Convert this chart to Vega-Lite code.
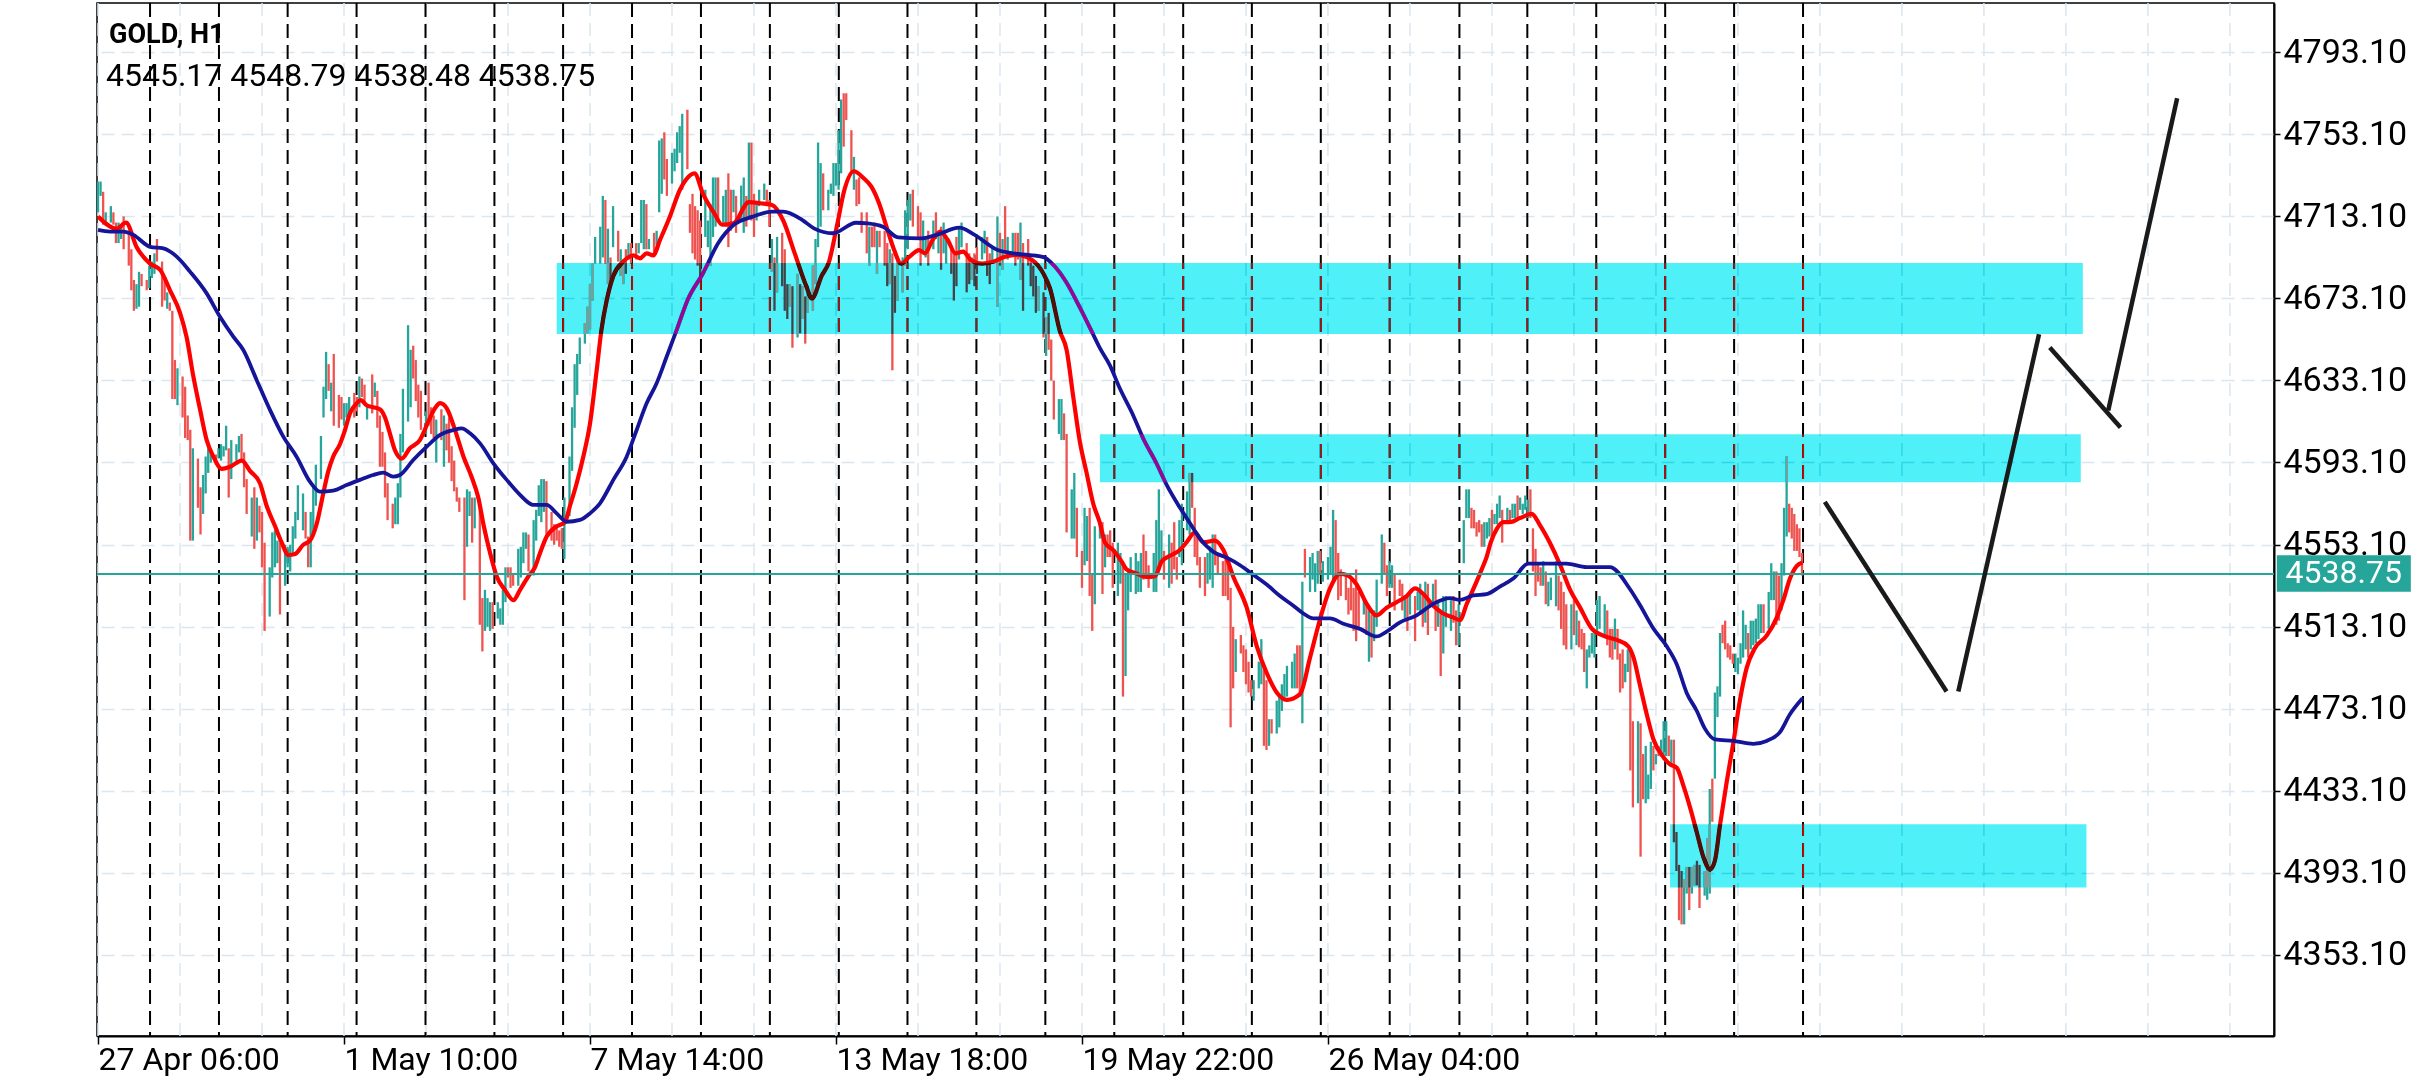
{
"$schema":"https://vega.github.io/schema/vega-lite/v6.json",
"width":2177,"height":1033,
"autosize":{"type":"none"},
"padding":{"left":97,"top":3,"right":162,"bottom":44},
"background":"white",
"config":{"view":{"stroke":"#000","strokeWidth":1.5},"font":"Roboto","axis":{"labelFont":"Roboto","labelColor":"#000"},"text":{"font":"Roboto"}},
"datasets":{
"one":[{}],
"gx":[{"g":0},{"g":32},{"g":64},{"g":96},{"g":128},{"g":160},{"g":192},{"g":224},{"g":256},{"g":288},{"g":320},{"g":352},{"g":384},{"g":416},{"g":448},{"g":480},{"g":512},{"g":544},{"g":576},{"g":608},{"g":640},{"g":672},{"g":704},{"g":736},{"g":768},{"g":800},{"g":832}],
"vl":[{"v":20.3},{"v":47.2},{"v":74.0},{"v":100.9},{"v":127.8},{"v":154.7},{"v":181.5},{"v":208.4},{"v":235.3},{"v":262.2},{"v":289.1},{"v":315.9},{"v":342.8},{"v":369.7},{"v":396.6},{"v":423.5},{"v":450.3},{"v":477.2},{"v":504.1},{"v":531.3},{"v":557.8},{"v":584.7},{"v":611.6},{"v":638.5},{"v":665.4}],
"bars":[
{"i":0,"l":4715,"h":4730,"u":1},{"i":1,"l":4723,"h":4730,"u":1},{"i":2,"l":4709,"h":4725,"u":0},{"i":3,"l":4709,"h":4715,"u":1},{"i":5,"l":4710,"h":4718,"u":1},{"i":6,"l":4709,"h":4715,"u":0},{"i":7,"l":4700,"h":4710,"u":0},{"i":8,"l":4700,"h":4710,"u":1},{"i":9,"l":4702,"h":4708,"u":1},{"i":10,"l":4697,"h":4713,"u":0},{"i":12,"l":4689,"h":4706,"u":0},{"i":13,"l":4677,"h":4697,"u":0},{"i":14,"l":4667,"h":4682,"u":0},{"i":15,"l":4668,"h":4680,"u":1},{"i":16,"l":4669,"h":4686,"u":1},{"i":17,"l":4679,"h":4685,"u":0},{"i":19,"l":4677,"h":4682,"u":0},{"i":20,"l":4678,"h":4689,"u":1},{"i":21,"l":4683,"h":4691,"u":1},{"i":22,"l":4685,"h":4695,"u":1},{"i":23,"l":4691,"h":4702,"u":0},{"i":25,"l":4669,"h":4691,"u":0},{"i":26,"l":4672,"h":4683,"u":0},{"i":27,"l":4668,"h":4676,"u":1},{"i":28,"l":4667,"h":4671,"u":0},{"i":29,"l":4624,"h":4667,"u":0},{"i":30,"l":4624,"h":4643,"u":0},{"i":31,"l":4621,"h":4639,"u":1},{"i":33,"l":4615,"h":4635,"u":0},{"i":34,"l":4605,"h":4630,"u":0},{"i":35,"l":4604,"h":4616,"u":0},{"i":36,"l":4555,"h":4609,"u":0},{"i":37,"l":4555,"h":4600,"u":1},{"i":39,"l":4571,"h":4595,"u":0},{"i":40,"l":4558,"h":4581,"u":0},{"i":41,"l":4568,"h":4587,"u":1},{"i":42,"l":4578,"h":4596,"u":1},{"i":43,"l":4588,"h":4600,"u":1},{"i":44,"l":4593,"h":4599,"u":1},{"i":46,"l":4592,"h":4597,"u":0},{"i":47,"l":4595,"h":4600,"u":1},{"i":48,"l":4594,"h":4602,"u":1},{"i":49,"l":4596,"h":4601,"u":1},{"i":50,"l":4599,"h":4611,"u":1},{"i":51,"l":4576,"h":4600,"u":0},{"i":52,"l":4585,"h":4604,"u":1},{"i":54,"l":4594,"h":4602,"u":1},{"i":55,"l":4598,"h":4606,"u":1},{"i":56,"l":4594,"h":4607,"u":0},{"i":57,"l":4581,"h":4598,"u":0},{"i":58,"l":4568,"h":4585,"u":0},{"i":60,"l":4557,"h":4576,"u":1},{"i":61,"l":4551,"h":4581,"u":0},{"i":62,"l":4555,"h":4576,"u":1},{"i":63,"l":4559,"h":4572,"u":0},{"i":64,"l":4542,"h":4569,"u":0},{"i":65,"l":4511,"h":4554,"u":0},{"i":67,"l":4518,"h":4542,"u":1},{"i":68,"l":4537,"h":4559,"u":1},{"i":69,"l":4542,"h":4560,"u":1},{"i":70,"l":4544,"h":4555,"u":1},{"i":71,"l":4519,"h":4554,"u":0},{"i":73,"l":4533,"h":4553,"u":1},{"i":74,"l":4542,"h":4552,"u":1},{"i":75,"l":4540,"h":4553,"u":1},{"i":76,"l":4549,"h":4562,"u":1},{"i":77,"l":4556,"h":4569,"u":1},{"i":78,"l":4565,"h":4582,"u":1},{"i":80,"l":4560,"h":4578,"u":1},{"i":81,"l":4556,"h":4569,"u":0},{"i":82,"l":4542,"h":4557,"u":0},{"i":83,"l":4542,"h":4569,"u":1},{"i":84,"l":4559,"h":4582,"u":1},{"i":85,"l":4572,"h":4592,"u":1},{"i":87,"l":4585,"h":4606,"u":1},{"i":88,"l":4615,"h":4630,"u":1},{"i":89,"l":4624,"h":4647,"u":1},{"i":90,"l":4628,"h":4641,"u":0},{"i":91,"l":4618,"h":4632,"u":1},{"i":92,"l":4611,"h":4646,"u":0},{"i":94,"l":4610,"h":4626,"u":0},{"i":95,"l":4614,"h":4625,"u":0},{"i":96,"l":4611,"h":4622,"u":1},{"i":97,"l":4615,"h":4622,"u":1},{"i":98,"l":4617,"h":4625,"u":1},{"i":100,"l":4615,"h":4627,"u":0},{"i":101,"l":4618,"h":4625,"u":0},{"i":102,"l":4620,"h":4635,"u":1},{"i":103,"l":4625,"h":4634,"u":0},{"i":104,"l":4622,"h":4631,"u":0},{"i":105,"l":4614,"h":4621,"u":1},{"i":107,"l":4617,"h":4636,"u":0},{"i":108,"l":4625,"h":4632,"u":1},{"i":109,"l":4610,"h":4628,"u":0},{"i":110,"l":4591,"h":4616,"u":0},{"i":111,"l":4591,"h":4608,"u":0},{"i":112,"l":4576,"h":4598,"u":0},{"i":113,"l":4565,"h":4583,"u":0},
{"i":115,"l":4561,"h":4573,"u":0},{"i":116,"l":4563,"h":4576,"u":1},{"i":117,"l":4563,"h":4583,"u":1},{"i":118,"l":4576,"h":4607,"u":1},{"i":119,"l":4598,"h":4629,"u":1},{"i":121,"l":4613,"h":4660,"u":1},{"i":122,"l":4620,"h":4648,"u":1},{"i":123,"l":4634,"h":4650,"u":0},{"i":124,"l":4623,"h":4643,"u":0},{"i":125,"l":4615,"h":4631,"u":0},{"i":126,"l":4609,"h":4628,"u":0},{"i":128,"l":4607,"h":4618,"u":1},{"i":129,"l":4611,"h":4632,"u":0},{"i":130,"l":4607,"h":4620,"u":0},{"i":131,"l":4605,"h":4616,"u":0},{"i":132,"l":4593,"h":4614,"u":1},{"i":134,"l":4604,"h":4619,"u":0},{"i":135,"l":4591,"h":4616,"u":1},{"i":136,"l":4599,"h":4612,"u":0},{"i":137,"l":4593,"h":4615,"u":0},{"i":138,"l":4584,"h":4601,"u":0},{"i":139,"l":4579,"h":4594,"u":0},{"i":140,"l":4574,"h":4581,"u":0},{"i":141,"l":4569,"h":4576,"u":0},{"i":143,"l":4526,"h":4576,"u":0},{"i":144,"l":4552,"h":4580,"u":1},{"i":145,"l":4567,"h":4579,"u":1},{"i":146,"l":4554,"h":4576,"u":0},{"i":147,"l":4561,"h":4576,"u":1},{"i":149,"l":4514,"h":4573,"u":0},{"i":150,"l":4501,"h":4527,"u":0},{"i":151,"l":4511,"h":4531,"u":1},{"i":152,"l":4513,"h":4527,"u":1},{"i":153,"l":4511,"h":4525,"u":1},{"i":154,"l":4512,"h":4525,"u":0},{"i":156,"l":4517,"h":4525,"u":1},{"i":157,"l":4514,"h":4522,"u":1},{"i":158,"l":4514,"h":4531,"u":1},{"i":159,"l":4525,"h":4542,"u":1},{"i":160,"l":4537,"h":4542,"u":0},{"i":161,"l":4532,"h":4542,"u":0},{"i":162,"l":4533,"h":4539,"u":0},{"i":164,"l":4533,"h":4551,"u":1},{"i":165,"l":4537,"h":4552,"u":1},{"i":166,"l":4544,"h":4559,"u":1},{"i":167,"l":4551,"h":4559,"u":1},{"i":168,"l":4540,"h":4558,"u":0},{"i":170,"l":4538,"h":4565,"u":1},{"i":171,"l":4555,"h":4570,"u":1},{"i":172,"l":4567,"h":4582,"u":1},{"i":173,"l":4564,"h":4585,"u":1},{"i":174,"l":4569,"h":4585,"u":1},{"i":175,"l":4558,"h":4584,"u":0},{"i":177,"l":4555,"h":4569,"u":0},{"i":178,"l":4553,"h":4563,"u":0},{"i":179,"l":4555,"h":4562,"u":0},{"i":180,"l":4552,"h":4560,"u":0},{"i":181,"l":4551,"h":4561,"u":0},{"i":182,"l":4546,"h":4576,"u":1},{"i":184,"l":4567,"h":4596,"u":1},{"i":185,"l":4589,"h":4620,"u":1},{"i":186,"l":4610,"h":4641,"u":1},{"i":187,"l":4626,"h":4646,"u":1},{"i":188,"l":4641,"h":4654,"u":1},{"i":190,"l":4651,"h":4661,"u":1},{"i":191,"l":4656,"h":4669,"u":1},{"i":192,"l":4658,"h":4680,"u":1},{"i":193,"l":4672,"h":4690,"u":1},{"i":194,"l":4690,"h":4703,"u":1},{"i":196,"l":4690,"h":4708,"u":1},{"i":197,"l":4693,"h":4723,"u":1},{"i":198,"l":4690,"h":4721,"u":0},{"i":199,"l":4680,"h":4707,"u":1},{"i":200,"l":4680,"h":4693,"u":0},{"i":201,"l":4698,"h":4718,"u":1},{"i":203,"l":4691,"h":4706,"u":0},{"i":204,"l":4684,"h":4697,"u":1},{"i":205,"l":4680,"h":4692,"u":1},{"i":206,"l":4685,"h":4697,"u":0},{"i":207,"l":4692,"h":4700,"u":1},{"i":208,"l":4690,"h":4700,"u":0},{"i":210,"l":4692,"h":4700,"u":0},{"i":211,"l":4695,"h":4700,"u":1},{"i":212,"l":4700,"h":4721,"u":1},{"i":213,"l":4697,"h":4721,"u":1},{"i":214,"l":4697,"h":4719,"u":0},{"i":215,"l":4697,"h":4702,"u":1},{"i":217,"l":4695,"h":4705,"u":0},{"i":218,"l":4699,"h":4706,"u":1},{"i":219,"l":4715,"h":4750,"u":1},
{"i":220,"l":4724,"h":4751,"u":1},{"i":221,"l":4731,"h":4754,"u":0},{"i":222,"l":4723,"h":4741,"u":0},{"i":224,"l":4729,"h":4744,"u":1},{"i":225,"l":4735,"h":4746,"u":1},{"i":226,"l":4739,"h":4754,"u":1},{"i":227,"l":4744,"h":4757,"u":1},{"i":228,"l":4726,"h":4763,"u":1},{"i":230,"l":4736,"h":4765,"u":0},{"i":231,"l":4705,"h":4719,"u":0},{"i":232,"l":4695,"h":4724,"u":0},{"i":233,"l":4692,"h":4718,"u":0},{"i":234,"l":4689,"h":4716,"u":0},{"i":235,"l":4682,"h":4711,"u":0},{"i":237,"l":4703,"h":4726,"u":1},{"i":238,"l":4698,"h":4711,"u":1},{"i":239,"l":4689,"h":4719,"u":1},{"i":240,"l":4703,"h":4732,"u":1},{"i":241,"l":4708,"h":4732,"u":1},{"i":242,"l":4711,"h":4732,"u":0},{"i":244,"l":4710,"h":4723,"u":1},{"i":245,"l":4708,"h":4726,"u":1},{"i":246,"l":4698,"h":4734,"u":0},{"i":247,"l":4706,"h":4726,"u":0},{"i":248,"l":4715,"h":4726,"u":1},{"i":249,"l":4705,"h":4723,"u":0},{"i":251,"l":4711,"h":4728,"u":1},{"i":252,"l":4705,"h":4732,"u":1},{"i":253,"l":4708,"h":4723,"u":0},{"i":254,"l":4713,"h":4749,"u":1},{"i":255,"l":4711,"h":4749,"u":0},{"i":256,"l":4703,"h":4724,"u":0},{"i":257,"l":4711,"h":4719,"u":1},{"i":258,"l":4718,"h":4726,"u":1},{"i":260,"l":4721,"h":4729,"u":1},{"i":261,"l":4718,"h":4726,"u":0},{"i":262,"l":4708,"h":4721,"u":0},{"i":263,"l":4686,"h":4702,"u":1},{"i":264,"l":4667,"h":4693,"u":0},{"i":265,"l":4676,"h":4703,"u":1},{"i":267,"l":4679,"h":4705,"u":0},{"i":268,"l":4667,"h":4697,"u":0},{"i":269,"l":4663,"h":4680,"u":0},{"i":270,"l":4669,"h":4680,"u":1},{"i":271,"l":4649,"h":4679,"u":0},{"i":273,"l":4654,"h":4685,"u":1},{"i":274,"l":4656,"h":4680,"u":0},{"i":275,"l":4663,"h":4679,"u":1},{"i":276,"l":4651,"h":4674,"u":0},{"i":277,"l":4666,"h":4679,"u":1},{"i":279,"l":4667,"h":4689,"u":1},{"i":280,"l":4680,"h":4702,"u":1},{"i":281,"l":4698,"h":4749,"u":1},{"i":282,"l":4708,"h":4739,"u":1},{"i":283,"l":4716,"h":4734,"u":0},{"i":285,"l":4716,"h":4726,"u":1},{"i":286,"l":4724,"h":4729,"u":1},{"i":287,"l":4723,"h":4739,"u":1},{"i":288,"l":4728,"h":4739,"u":1},{"i":289,"l":4726,"h":4755,"u":1},{"i":290,"l":4734,"h":4770,"u":1},{"i":291,"l":4747,"h":4773,"u":0},{"i":292,"l":4760,"h":4773,"u":0},{"i":294,"l":4734,"h":4755,"u":0},{"i":295,"l":4726,"h":4742,"u":1},{"i":296,"l":4718,"h":4731,"u":0},{"i":297,"l":4719,"h":4732,"u":0},{"i":298,"l":4705,"h":4715,"u":0},{"i":300,"l":4695,"h":4715,"u":0},{"i":301,"l":4689,"h":4708,"u":1},{"i":302,"l":4698,"h":4708,"u":0},{"i":303,"l":4698,"h":4710,"u":0},{"i":304,"l":4685,"h":4706,"u":1},{"i":305,"l":4698,"h":4706,"u":0},{"i":307,"l":4689,"h":4706,"u":0},{"i":308,"l":4679,"h":4700,"u":0},{"i":309,"l":4680,"h":4697,"u":1},{"i":310,"l":4638,"h":4695,"u":0},{"i":311,"l":4666,"h":4684,"u":0},{"i":312,"l":4672,"h":4692,"u":1},{"i":314,"l":4676,"h":4693,"u":1},{"i":315,"l":4689,"h":4716,"u":1},{"i":316,"l":4697,"h":4721,"u":1},{"i":317,"l":4711,"h":4724,"u":1},{"i":318,"l":4708,"h":4726,"u":0},{"i":320,"l":4703,"h":4718,"u":0},{"i":321,"l":4689,"h":4715,"u":0},{"i":322,"l":4695,"h":4711,"u":1},{"i":323,"l":4693,"h":4703,"u":1},{"i":324,"l":4689,"h":4706,"u":0},{"i":326,"l":4697,"h":4711,"u":1},{"i":327,"l":4702,"h":4715,"u":0},{"i":328,"l":4695,"h":4705,"u":1},{"i":329,"l":4687,"h":4708,"u":0},{"i":330,"l":4695,"h":4710,"u":1},{"i":331,"l":4690,"h":4702,"u":1},{"i":333,"l":4685,"h":4698,"u":0},{"i":334,"l":4672,"h":4695,"u":0},{"i":335,"l":4679,"h":4703,"u":0},{"i":336,"l":4692,"h":4708,"u":1},{"i":337,"l":4698,"h":4710,"u":1},{"i":339,"l":4676,"h":4700,"u":0},{"i":340,"l":4680,"h":4695,"u":0},{"i":341,"l":4682,"h":4693,"u":1},{"i":342,"l":4679,"h":4695,"u":0},{"i":343,"l":4685,"h":4698,"u":0},{"i":345,"l":4692,"h":4703,"u":1},{"i":346,"l":4695,"h":4706,"u":1},{"i":347,"l":4684,"h":4703,"u":0},{"i":348,"l":4680,"h":4695,"u":0},{"i":349,"l":4690,"h":4698,"u":1},{"i":351,"l":4669,"h":4713,"u":1},{"i":352,"l":4689,"h":4705,"u":0},{"i":353,"l":4687,"h":4702,"u":1},{"i":354,"l":4695,"h":4718,"u":0},{"i":355,"l":4692,"h":4703,"u":1},{"i":357,"l":4695,"h":4705,"u":1},{"i":358,"l":4689,"h":4705,"u":0},{"i":359,"l":4692,"h":4705,"u":0},{"i":360,"l":4682,"h":4710,"u":1},{"i":361,"l":4667,"h":4700,"u":0},{"i":363,"l":4689,"h":4702,"u":0},{"i":364,"l":4679,"h":4692,"u":0},{"i":365,"l":4674,"h":4689,"u":0},{"i":366,"l":4666,"h":4684,"u":0},{"i":367,"l":4667,"h":4679,"u":1},{"i":369,"l":4654,"h":4676,"u":0},{"i":370,"l":4645,"h":4664,"u":1},{"i":371,"l":4648,"h":4666,"u":0},{"i":372,"l":4633,"h":4653,"u":0},{"i":373,"l":4614,"h":4633,"u":0},{"i":375,"l":4607,"h":4624,"u":1},{"i":376,"l":4604,"h":4624,"u":1},{"i":377,"l":4604,"h":4617,"u":0},{"i":378,"l":4559,"h":4607,"u":0},
{"i":380,"l":4556,"h":4580,"u":1},{"i":381,"l":4556,"h":4588,"u":1},{"i":382,"l":4547,"h":4571,"u":0},{"i":384,"l":4532,"h":4550,"u":0},{"i":385,"l":4543,"h":4571,"u":1},{"i":386,"l":4545,"h":4567,"u":1},{"i":387,"l":4528,"h":4571,"u":0},{"i":388,"l":4511,"h":4539,"u":0},{"i":389,"l":4524,"h":4562,"u":1},{"i":391,"l":4556,"h":4564,"u":1},{"i":392,"l":4529,"h":4564,"u":0},{"i":393,"l":4542,"h":4558,"u":1},{"i":394,"l":4547,"h":4558,"u":0},{"i":395,"l":4547,"h":4560,"u":0},{"i":396,"l":4532,"h":4554,"u":0},{"i":398,"l":4528,"h":4554,"u":1},{"i":399,"l":4534,"h":4549,"u":1},{"i":400,"l":4479,"h":4543,"u":0},{"i":401,"l":4489,"h":4539,"u":1},{"i":402,"l":4521,"h":4541,"u":1},{"i":403,"l":4530,"h":4547,"u":1},{"i":405,"l":4529,"h":4549,"u":1},{"i":406,"l":4530,"h":4545,"u":1},{"i":407,"l":4530,"h":4549,"u":1},{"i":408,"l":4536,"h":4558,"u":0},{"i":409,"l":4539,"h":4550,"u":0},{"i":410,"l":4532,"h":4543,"u":0},{"i":412,"l":4530,"h":4549,"u":1},{"i":413,"l":4530,"h":4565,"u":1},{"i":414,"l":4541,"h":4580,"u":1},{"i":415,"l":4545,"h":4560,"u":1},{"i":416,"l":4536,"h":4550,"u":0},{"i":418,"l":4532,"h":4558,"u":1},{"i":419,"l":4534,"h":4554,"u":0},{"i":420,"l":4541,"h":4564,"u":0},{"i":421,"l":4536,"h":4547,"u":0},{"i":422,"l":4547,"h":4565,"u":1},{"i":423,"l":4543,"h":4573,"u":1},{"i":425,"l":4560,"h":4579,"u":1},{"i":426,"l":4558,"h":4588,"u":1},{"i":427,"l":4571,"h":4588,"u":0},{"i":428,"l":4547,"h":4571,"u":0},{"i":429,"l":4543,"h":4558,"u":0},{"i":430,"l":4532,"h":4547,"u":0},{"i":432,"l":4528,"h":4547,"u":0},{"i":433,"l":4534,"h":4549,"u":1},{"i":434,"l":4536,"h":4552,"u":1},{"i":435,"l":4532,"h":4558,"u":1},{"i":436,"l":4543,"h":4558,"u":0},{"i":437,"l":4539,"h":4549,"u":0},{"i":439,"l":4528,"h":4545,"u":0},{"i":440,"l":4528,"h":4547,"u":0},{"i":441,"l":4526,"h":4545,"u":0},{"i":442,"l":4464,"h":4532,"u":0},{"i":443,"l":4483,"h":4513,"u":0},{"i":444,"l":4491,"h":4507,"u":1},{"i":446,"l":4500,"h":4509,"u":0},{"i":447,"l":4491,"h":4504,"u":0},{"i":448,"l":4485,"h":4502,"u":0},{"i":449,"l":4481,"h":4496,"u":0},{"i":450,"l":4479,"h":4487,"u":0},{"i":451,"l":4477,"h":4487,"u":1},{"i":453,"l":4483,"h":4496,"u":1},{"i":454,"l":4485,"h":4507,"u":1},{"i":455,"l":4455,"h":4492,"u":0},{"i":456,"l":4453,"h":4487,"u":0},{"i":457,"l":4455,"h":4468,"u":1},{"i":458,"l":4461,"h":4468,"u":0},{"i":460,"l":4461,"h":4477,"u":1},{"i":461,"l":4464,"h":4479,"u":1},{"i":462,"l":4472,"h":4485,"u":1},{"i":463,"l":4477,"h":4490,"u":1},{"i":464,"l":4479,"h":4494,"u":1},{"i":466,"l":4483,"h":4496,"u":1},{"i":467,"l":4483,"h":4500,"u":1},{"i":468,"l":4483,"h":4504,"u":0},{"i":469,"l":4479,"h":4504,"u":0},{"i":470,"l":4466,"h":4535,"u":1},{"i":471,"l":4537,"h":4551,"u":0},{"i":473,"l":4530,"h":4547,"u":1},{"i":474,"l":4536,"h":4549,"u":1},{"i":475,"l":4530,"h":4544,"u":1},{"i":476,"l":4534,"h":4550,"u":1},{"i":477,"l":4539,"h":4550,"u":0},{"i":478,"l":4535,"h":4545,"u":1},{"i":480,"l":4536,"h":4547,"u":1},{"i":481,"l":4539,"h":4552,"u":1},{"i":482,"l":4536,"h":4570,"u":1},{"i":483,"l":4539,"h":4565,"u":0},{"i":484,"l":4526,"h":4549,"u":0},{"i":485,"l":4528,"h":4541,"u":0},{"i":487,"l":4526,"h":4539,"u":0},{"i":488,"l":4519,"h":4532,"u":0},{"i":489,"l":4521,"h":4536,"u":0},{"i":490,"l":4511,"h":4532,"u":0},{"i":491,"l":4506,"h":4541,"u":0},{"i":492,"l":4513,"h":4530,"u":0},{"i":494,"l":4519,"h":4528,"u":1},{"i":495,"l":4509,"h":4524,"u":0},{"i":496,"l":4496,"h":4522,"u":1},{"i":497,"l":4498,"h":4519,"u":0},{"i":498,"l":4506,"h":4521,"u":1},{"i":499,"l":4513,"h":4536,"u":1},{"i":501,"l":4534,"h":4558,"u":1},{"i":502,"l":4539,"h":4554,"u":0},{"i":503,"l":4528,"h":4543,"u":0},{"i":504,"l":4532,"h":4545,"u":1},{"i":505,"l":4532,"h":4543,"u":1},{"i":506,"l":4521,"h":4539,"u":0},{"i":508,"l":4528,"h":4536,"u":0},{"i":509,"l":4521,"h":4534,"u":0},{"i":510,"l":4517,"h":4528,"u":1},{"i":511,"l":4511,"h":4528,"u":0},{"i":512,"l":4519,"h":4530,"u":1},{"i":514,"l":4506,"h":4528,"u":0},{"i":515,"l":4521,"h":4530,"u":1},{"i":516,"l":4519,"h":4534,"u":1},{"i":517,"l":4513,"h":4528,"u":0},{"i":518,"l":4515,"h":4535,"u":1},{"i":519,"l":4509,"h":4534,"u":0},{"i":521,"l":4524,"h":4534,"u":1},{"i":522,"l":4511,"h":4536,"u":0},{"i":523,"l":4513,"h":4526,"u":1},{"i":524,"l":4489,"h":4521,"u":0},{"i":525,"l":4500,"h":4528,"u":1},{"i":526,"l":4513,"h":4528,"u":1},{"i":528,"l":4511,"h":4526,"u":1},{"i":529,"l":4515,"h":4528,"u":0},{"i":530,"l":4504,"h":4521,"u":0},{"i":531,"l":4504,"h":4524,"u":1},
{"i":533,"l":4544,"h":4565,"u":1},{"i":534,"l":4566,"h":4580,"u":1},{"i":535,"l":4566,"h":4580,"u":1},{"i":536,"l":4561,"h":4571,"u":0},{"i":537,"l":4561,"h":4570,"u":0},{"i":538,"l":4557,"h":4564,"u":0},{"i":539,"l":4559,"h":4565,"u":0},{"i":540,"l":4552,"h":4563,"u":0},{"i":541,"l":4552,"h":4564,"u":1},{"i":542,"l":4556,"h":4564,"u":1},{"i":543,"l":4557,"h":4566,"u":1},{"i":544,"l":4556,"h":4570,"u":0},{"i":545,"l":4563,"h":4568,"u":1},{"i":546,"l":4563,"h":4573,"u":1},{"i":547,"l":4566,"h":4577,"u":1},{"i":548,"l":4554,"h":4570,"u":0},{"i":550,"l":4564,"h":4571,"u":1},{"i":551,"l":4564,"h":4570,"u":0},{"i":552,"l":4566,"h":4573,"u":1},{"i":553,"l":4566,"h":4573,"u":1},{"i":554,"l":4566,"h":4577,"u":0},{"i":555,"l":4570,"h":4576,"u":1},{"i":556,"l":4568,"h":4573,"u":1},{"i":557,"l":4570,"h":4577,"u":1},{"i":558,"l":4566,"h":4575,"u":1},{"i":559,"l":4566,"h":4580,"u":0},{"i":560,"l":4540,"h":4561,"u":0},{"i":561,"l":4528,"h":4551,"u":0},{"i":562,"l":4535,"h":4544,"u":0},{"i":563,"l":4533,"h":4542,"u":0},{"i":564,"l":4533,"h":4545,"u":1},{"i":565,"l":4524,"h":4540,"u":0},{"i":566,"l":4523,"h":4535,"u":1},{"i":567,"l":4526,"h":4537,"u":1},{"i":569,"l":4523,"h":4545,"u":1},{"i":570,"l":4521,"h":4538,"u":0},{"i":571,"l":4512,"h":4535,"u":0},{"i":572,"l":4504,"h":4530,"u":0},{"i":573,"l":4502,"h":4524,"u":0},{"i":575,"l":4502,"h":4524,"u":1},{"i":576,"l":4509,"h":4526,"u":0},{"i":577,"l":4504,"h":4521,"u":1},{"i":578,"l":4503,"h":4516,"u":0},{"i":579,"l":4502,"h":4512,"u":0},{"i":580,"l":4491,"h":4510,"u":0},{"i":581,"l":4483,"h":4502,"u":1},{"i":582,"l":4498,"h":4504,"u":1},{"i":583,"l":4500,"h":4510,"u":1},{"i":584,"l":4498,"h":4510,"u":1},{"i":585,"l":4509,"h":4526,"u":1},{"i":586,"l":4512,"h":4528,"u":1},{"i":588,"l":4509,"h":4524,"u":1},{"i":589,"l":4504,"h":4521,"u":0},{"i":590,"l":4498,"h":4512,"u":0},{"i":591,"l":4497,"h":4512,"u":0},{"i":592,"l":4502,"h":4517,"u":1},{"i":593,"l":4497,"h":4512,"u":0},{"i":594,"l":4481,"h":4500,"u":0},{"i":595,"l":4483,"h":4502,"u":0},{"i":596,"l":4486,"h":4495,"u":1},{"i":597,"l":4491,"h":4502,"u":1},{"i":598,"l":4443,"h":4502,"u":0},{"i":599,"l":4425,"h":4467,"u":0},{"i":601,"l":4427,"h":4467,"u":1},{"i":602,"l":4401,"h":4466,"u":0},{"i":603,"l":4429,"h":4451,"u":0},{"i":604,"l":4427,"h":4455,"u":1},{"i":605,"l":4429,"h":4441,"u":1},{"i":606,"l":4434,"h":4457,"u":1},{"i":607,"l":4443,"h":4455,"u":0},{"i":608,"l":4446,"h":4451,"u":1},{"i":609,"l":4450,"h":4455,"u":0},{"i":610,"l":4451,"h":4458,"u":1},{"i":611,"l":4448,"h":4467,"u":1},{"i":612,"l":4450,"h":4467,"u":1},{"i":613,"l":4450,"h":4460,"u":0},{"i":614,"l":4446,"h":4458,"u":1},{"i":615,"l":4408,"h":4458,"u":0},{"i":616,"l":4394,"h":4413,"u":0},{"i":617,"l":4370,"h":4397,"u":0},{"i":618,"l":4368,"h":4394,"u":0},{"i":619,"l":4368,"h":4390,"u":1},{"i":620,"l":4383,"h":4396,"u":1},{"i":621,"l":4375,"h":4396,"u":0},{"i":622,"l":4383,"h":4396,"u":1},{"i":623,"l":4387,"h":4397,"u":1},{"i":624,"l":4387,"h":4399,"u":0},{"i":625,"l":4376,"h":4397,"u":0},{"i":627,"l":4382,"h":4394,"u":1},{"i":628,"l":4380,"h":4410,"u":1},{"i":629,"l":4383,"h":4434,"u":1},{"i":630,"l":4418,"h":4439,"u":0},{"i":631,"l":4439,"h":4481,"u":1},{"i":632,"l":4469,"h":4484,"u":1},{"i":633,"l":4479,"h":4510,"u":1},{"i":634,"l":4505,"h":4514,"u":0},{"i":635,"l":4502,"h":4516,"u":0},{"i":636,"l":4498,"h":4505,"u":0},{"i":637,"l":4497,"h":4504,"u":0},{"i":638,"l":4495,"h":4500,"u":0},{"i":639,"l":4491,"h":4500,"u":1},{"i":640,"l":4490,"h":4498,"u":1},{"i":641,"l":4495,"h":4505,"u":1},{"i":642,"l":4498,"h":4521,"u":1},{"i":643,"l":4502,"h":4514,"u":1},{"i":644,"l":4498,"h":4510,"u":0},{"i":645,"l":4502,"h":4516,"u":1},{"i":646,"l":4504,"h":4516,"u":1},{"i":647,"l":4505,"h":4517,"u":1},{"i":648,"l":4507,"h":4524,"u":1},{"i":649,"l":4510,"h":4524,"u":1},{"i":650,"l":4510,"h":4524,"u":0},{"i":652,"l":4512,"h":4530,"u":1},{"i":653,"l":4526,"h":4544,"u":1},{"i":654,"l":4526,"h":4540,"u":1},{"i":655,"l":4514,"h":4540,"u":0},{"i":656,"l":4516,"h":4538,"u":0},{"i":657,"l":4521,"h":4544,"u":1},{"i":658,"l":4538,"h":4571,"u":1},{"i":659,"l":4557,"h":4596,"u":1},{"i":660,"l":4559,"h":4573,"u":0},{"i":661,"l":4556,"h":4571,"u":0},{"i":662,"l":4550,"h":4568,"u":0},{"i":663,"l":4550,"h":4563,"u":0},{"i":664,"l":4547,"h":4561,"u":0},{"i":665,"l":4538,"h":4549,"u":0}
],
"fast":[
{"i":0,"p":4713},{"i":7.3,"p":4707},{"i":10.9,"p":4710},{"i":15.1,"p":4698},{"i":20.3,"p":4690},{"i":24.2,"p":4687},{"i":28.1,"p":4677},{"i":32,"p":4666},{"i":34.6,"p":4654},{"i":37.2,"p":4635},{"i":39.8,"p":4619},{"i":42.4,"p":4604},{"i":45,"p":4596},{"i":48.3,"p":4590},{"i":51.5,"p":4591},{"i":56.1,"p":4594},{"i":59.3,"p":4589},{"i":63.2,"p":4583},{"i":65.8,"p":4572},{"i":69.1,"p":4562},{"i":71.7,"p":4554},{"i":74.3,"p":4548},{"i":76.9,"p":4548.5},{"i":80.1,"p":4553},{"i":82.7,"p":4555},{"i":85.3,"p":4563},{"i":87.9,"p":4578},{"i":89.9,"p":4589},{"i":91.8,"p":4596},{"i":94.4,"p":4602},{"i":96.4,"p":4609},{"i":98.3,"p":4617},{"i":101,"p":4622},{"i":102.5,"p":4623.5},{"i":104.8,"p":4621},{"i":107.4,"p":4620},{"i":110,"p":4619},{"i":112,"p":4615},{"i":113.5,"p":4609},{"i":115.9,"p":4599},{"i":118.5,"p":4595},{"i":121.7,"p":4600},{"i":125.6,"p":4604},{"i":128.9,"p":4613},{"i":131.5,"p":4619.5},{"i":133.5,"p":4622},{"i":136.1,"p":4619.5},{"i":139.3,"p":4609},{"i":142.6,"p":4596},{"i":145.8,"p":4586},{"i":148.4,"p":4576},{"i":150.4,"p":4563},{"i":153,"p":4549},{"i":155.6,"p":4537.5},{"i":158.8,"p":4531},{"i":162.1,"p":4526},{"i":164.7,"p":4531},{"i":167.9,"p":4537.5},{"i":170.5,"p":4542},{"i":172.5,"p":4549},{"i":175.1,"p":4557},{"i":179,"p":4562},{"i":182.2,"p":4564},{"i":184.2,"p":4572},{"i":186.8,"p":4583},{"i":189.4,"p":4596},{"i":192,"p":4612},{"i":194.6,"p":4638},{"i":196.5,"p":4658},{"i":198.5,"p":4672},{"i":201.1,"p":4684},{"i":205,"p":4691},{"i":208.9,"p":4694},{"i":211.5,"p":4692.6},{"i":214.1,"p":4695},{"i":216.7,"p":4694},{"i":219.3,"p":4701.5},{"i":223.2,"p":4713},{"i":227.1,"p":4726},{"i":229.5,"p":4731},{"i":232.8,"p":4734},{"i":236.1,"p":4724},{"i":240.5,"p":4714.5},{"i":243.5,"p":4709},{"i":248,"p":4709.6},{"i":254,"p":4720},{"i":258.5,"p":4719.4},{"i":263,"p":4718.6},{"i":267.4,"p":4711},{"i":271.9,"p":4695},{"i":276.4,"p":4679},{"i":278.6,"p":4673},{"i":282.4,"p":4684},{"i":285.3,"p":4691},{"i":288.3,"p":4708},{"i":291.3,"p":4726},{"i":295,"p":4735},{"i":298.8,"p":4731.6},{"i":301.8,"p":4727.5},{"i":304.8,"p":4719.4},{"i":307.7,"p":4708},{"i":310.7,"p":4696.6},{"i":313.4,"p":4690},{"i":316.7,"p":4693.4},{"i":320.4,"p":4696.6},{"i":322.7,"p":4695},{"i":325.7,"p":4701.5},{"i":328.7,"p":4705.6},{"i":331.6,"p":4701.5},{"i":334.6,"p":4695},{"i":337.6,"p":4695.8},{"i":340.6,"p":4691.8},{"i":345.1,"p":4690},{"i":349.6,"p":4691},{"i":354,"p":4693.4},{"i":358.5,"p":4694.2},{"i":364.5,"p":4691.8},{"i":369,"p":4685},{"i":371.5,"p":4678},{"i":375.4,"p":4657},{"i":378,"p":4648},{"i":380.6,"p":4625},{"i":383.2,"p":4603},{"i":385.8,"p":4588},{"i":388.4,"p":4573},{"i":391,"p":4563.6},{"i":393,"p":4554},{"i":396.2,"p":4550.4},{"i":399.5,"p":4544.8},{"i":401.4,"p":4541},{"i":405.3,"p":4539},{"i":409.2,"p":4537.3},{"i":412.5,"p":4537.7},{"i":415.1,"p":4544.8},{"i":418.3,"p":4547.6},{"i":422.2,"p":4550.4},{"i":424.8,"p":4554.2},{"i":428.1,"p":4559},{"i":431.3,"p":4554.2},{"i":435.9,"p":4555},{"i":439.2,"p":4550.4},{"i":443.1,"p":4537.3},{"i":448.3,"p":4522.3},{"i":452.2,"p":4503.6},{"i":456.1,"p":4490.5},{"i":460,"p":4481},{"i":463.9,"p":4477.4},{"i":469.1,"p":4480.2},{"i":473,"p":4498},{"i":476.9,"p":4516.7},{"i":480.8,"p":4531.7},{"i":484.7,"p":4538.8},{"i":487.3,"p":4538.3},{"i":491.2,"p":4533.6},{"i":495.1,"p":4524.2},{"i":499,"p":4518.6},{"i":502.9,"p":4522.3},{"i":506.8,"p":4525},{"i":510.7,"p":4528},{"i":514,"p":4531.7},{"i":517.2,"p":4529},{"i":521.1,"p":4523.3},{"i":525,"p":4519.5},{"i":528.9,"p":4517.6},{"i":531.5,"p":4516.3},{"i":534.1,"p":4524},{"i":538,"p":4535},{"i":540,"p":4541},{"i":541.9,"p":4547},{"i":543.5,"p":4554},{"i":546,"p":4561},{"i":548.5,"p":4564},{"i":551,"p":4564},{"i":554.9,"p":4566},{"i":559.5,"p":4568},{"i":562.7,"p":4562.6},{"i":566.6,"p":4554},{"i":570.5,"p":4543.5},{"i":574.4,"p":4531.3},{"i":578.3,"p":4522.6},{"i":582.9,"p":4512.2},{"i":587.4,"p":4508.7},{"i":592.7,"p":4506.6},{"i":597.2,"p":4503.5},{"i":599.2,"p":4498.2},{"i":601.8,"p":4484.3},{"i":604.4,"p":4470.4},{"i":607,"p":4458.2},{"i":610.9,"p":4449.5},{"i":613.5,"p":4446},{"i":616.1,"p":4444.3},{"i":618.7,"p":4435.6},{"i":621.3,"p":4425},{"i":623.9,"p":4413},{"i":626.5,"p":4400.8},{"i":629.1,"p":4394.7},{"i":631,"p":4399},{"i":633,"p":4416.4},{"i":635.6,"p":4437.3},{"i":638.2,"p":4456.5},{"i":640.8,"p":4477.4},{"i":643.4,"p":4493},{"i":646.6,"p":4502.6},{"i":651.2,"p":4508.7},{"i":655.1,"p":4517.4},{"i":657.7,"p":4526},{"i":660.3,"p":4536.5},{"i":662.9,"p":4542.6},{"i":665.2,"p":4544.4}
],
"slow":[
{"i":0,"p":4706.4},{"i":4.7,"p":4705.6},{"i":9.9,"p":4705.6},{"i":13.8,"p":4704},{"i":20.3,"p":4698.2},{"i":25.5,"p":4697.4},{"i":30.7,"p":4693.4},{"i":35.9,"p":4686.1},{"i":42.4,"p":4675.5},{"i":47.6,"p":4664.1},{"i":52.8,"p":4654.4},{"i":56.7,"p":4647.9},{"i":61.9,"p":4633.3},{"i":67.1,"p":4618.7},{"i":72.3,"p":4605.7},{"i":77.5,"p":4595.9},{"i":82.7,"p":4583.7},{"i":86.6,"p":4578.9},{"i":91.8,"p":4579.4},{"i":97,"p":4582.1},{"i":102.2,"p":4584.6},{"i":107.4,"p":4587},{"i":111.3,"p":4588.1},{"i":115.2,"p":4586.2},{"i":117.8,"p":4587},{"i":123,"p":4594.3},{"i":128.3,"p":4600.8},{"i":133.5,"p":4606.5},{"i":138.7,"p":4608.9},{"i":141.9,"p":4609.7},{"i":145.2,"p":4607.3},{"i":149.1,"p":4602.4},{"i":154.3,"p":4592.7},{"i":159.5,"p":4584.6},{"i":164.7,"p":4577.3},{"i":169.9,"p":4572.4},{"i":175.1,"p":4572.4},{"i":179,"p":4568.3},{"i":182.9,"p":4564.2},{"i":188.1,"p":4565.1},{"i":192,"p":4568.3},{"i":195.9,"p":4573.2},{"i":201.1,"p":4584.6},{"i":206.3,"p":4595.9},{"i":210.2,"p":4608.9},{"i":214.1,"p":4621.9},{"i":218,"p":4631.7},{"i":221.9,"p":4644.6},{"i":225.8,"p":4657.6},{"i":230.1,"p":4672.3},{"i":236.1,"p":4685.3},{"i":242,"p":4699.9},{"i":248,"p":4708.8},{"i":255.5,"p":4712.9},{"i":262.9,"p":4715.3},{"i":267.4,"p":4715.3},{"i":274.9,"p":4711.2},{"i":279.4,"p":4707.2},{"i":286.8,"p":4704.8},{"i":295.8,"p":4709.9},{"i":300.3,"p":4709.6},{"i":306.3,"p":4708},{"i":312.2,"p":4702.8},{"i":321.2,"p":4702.3},{"i":327.2,"p":4704},{"i":336.1,"p":4707.5},{"i":342.1,"p":4704},{"i":351.1,"p":4696.6},{"i":357,"p":4695},{"i":363,"p":4694.2},{"i":369,"p":4693.2},{"i":373.5,"p":4688.5},{"i":378,"p":4680.7},{"i":383.2,"p":4668.5},{"i":388.4,"p":4655.4},{"i":391,"p":4648.8},{"i":394.9,"p":4640.4},{"i":398.8,"p":4629.1},{"i":404,"p":4616},{"i":407.9,"p":4604.8},{"i":413.1,"p":4592.6},{"i":417,"p":4582.3},{"i":422.2,"p":4571.1},{"i":426.1,"p":4563.6},{"i":430,"p":4556.1},{"i":435.3,"p":4549.5},{"i":440.5,"p":4546.7},{"i":445.7,"p":4543},{"i":450.9,"p":4538.3},{"i":456.1,"p":4533.6},{"i":461.3,"p":4528},{"i":466.5,"p":4523.3},{"i":470.4,"p":4519.5},{"i":474.3,"p":4517.1},{"i":480.8,"p":4517.1},{"i":486,"p":4514.5},{"i":492.5,"p":4512},{"i":499,"p":4508.3},{"i":502.9,"p":4510.7},{"i":508.1,"p":4515.2},{"i":514.6,"p":4518.6},{"i":521.1,"p":4524.2},{"i":527.6,"p":4527},{"i":531.5,"p":4526.1},{"i":536.7,"p":4528.3},{"i":541.9,"p":4528.9},{"i":547.1,"p":4532.6},{"i":552.3,"p":4536.5},{"i":558.2,"p":4543.8},{"i":564,"p":4543.8},{"i":573.1,"p":4543.8},{"i":580.9,"p":4542.1},{"i":590,"p":4542.1},{"i":597.9,"p":4531.3},{"i":601.8,"p":4523.5},{"i":607,"p":4512.2},{"i":612.2,"p":4503.5},{"i":616.1,"p":4494.8},{"i":620,"p":4480.8},{"i":623.9,"p":4472.1},{"i":627.1,"p":4463.4},{"i":631,"p":4458.2},{"i":638.2,"p":4457.4},{"i":646,"p":4456},{"i":651.2,"p":4457.4},{"i":656.4,"p":4461.7},{"i":660.3,"p":4470.4},{"i":665.2,"p":4478.2}
],
"zones":[{"x1":179.0,"x2":774.6,"p1":4655.7,"p2":4690.3},{"x1":391.0,"x2":773.8,"p1":4583.5,"p2":4606.8},{"x1":613.5,"x2":776.0,"p1":4386.0,"p2":4416.8}],
"fc":[{"g":"a","i":673.9,"p":4573.9},{"g":"a","i":721.4,"p":4481.5},{"g":"b","i":726.0,"p":4481.5},{"g":"b","i":757.5,"p":4655.6},{"g":"c","i":761.7,"p":4649.1},{"g":"c","i":789.3,"p":4610.1},{"g":"d","i":784.5,"p":4618.4},{"g":"d","i":811.4,"p":4770.6}]
},
"layer":[
{"data":{"name":"gx"},"mark":{"type":"rule","color":"#dce6ee","strokeWidth":1.5,"strokeDash":[13,7]},
 "encoding":{"x":{"field":"g","type":"quantitative","scale":{"domain":[-0.4,849.2],"nice":false,"zero":false},
   "axis":{"title":null,"values":[0,96,192,288,384,480],
    "labelExpr":"datum.value==0?'27 Apr 06:00':datum.value==96?'1 May 10:00':datum.value==192?'7 May 14:00':datum.value==288?'13 May 18:00':datum.value==384?'19 May 22:00':'26 May 04:00'",
    "labelAlign":"left","labelBaseline":"top","labelPadding":0,"labelFontSize":32,"labelFlush":false,"labelOverlap":false,"labelLimit":0,"labelColor":"#000",
    "grid":false,"ticks":true,"tickSize":8,"tickColor":"#000","tickWidth":1.5,
    "domain":true,"domainColor":"#000","domainWidth":2}}}},
{"data":{"name":"vl"},"mark":{"type":"rule","color":"#000","strokeWidth":2,"strokeDash":[14,7]},
 "encoding":{"x":{"field":"v","type":"quantitative","scale":{"domain":[-0.4,849.2],"nice":false,"zero":false}}}},
{"data":{"name":"bars"},"mark":{"type":"rule","strokeWidth":2.3},
 "encoding":{
  "x":{"field":"i","type":"quantitative","scale":{"domain":[-0.4,849.2],"nice":false,"zero":false}},
  "y":{"field":"l","type":"quantitative","scale":{"domain":[4313.6,4817.0],"nice":false,"zero":false},
   "axis":{"title":null,"orient":"right","values":[4353.1,4393.1,4433.1,4473.1,4513.1,4553.1,4593.1,4633.1,4673.1,4713.1,4753.1,4793.1],"format":".2f",
    "labelFontSize":34,"labelPadding":3,"labelBaseline":"middle","labelAlign":"left","labelLimit":0,"labelColor":"#000","tickSize":6,"tickColor":"#000","tickWidth":1.5,
    "grid":true,"gridDash":[13,7],"gridColor":"#dce6ee","gridWidth":1.5,"domain":true,"domainColor":"#000","domainWidth":2}},
  "y2":{"field":"h"},
  "color":{"field":"u","type":"nominal","scale":{"domain":[0,1],"range":["#ef5350","#26a69a"]},"legend":null}}},
{"data":{"name":"fast"},"mark":{"type":"line","color":"#ff0000","strokeWidth":4.2,"interpolate":"monotone"},
 "encoding":{"x":{"field":"i","type":"quantitative","scale":{"domain":[-0.4,849.2],"nice":false,"zero":false}},
  "y":{"field":"p","type":"quantitative","scale":{"domain":[4313.6,4817.0],"nice":false,"zero":false}}}},
{"data":{"name":"slow"},"mark":{"type":"line","color":"#15159a","strokeWidth":3.8,"interpolate":"monotone"},
 "encoding":{"x":{"field":"i","type":"quantitative","scale":{"domain":[-0.4,849.2],"nice":false,"zero":false}},
  "y":{"field":"p","type":"quantitative","scale":{"domain":[4313.6,4817.0],"nice":false,"zero":false}}}},
{"data":{"name":"one"},"mark":{"type":"rule","color":"#26a69a","strokeWidth":2.2},
 "encoding":{"y":{"datum":4538.75,"type":"quantitative","scale":{"domain":[4313.6,4817.0],"nice":false,"zero":false}}}},
{"data":{"name":"zones"},"mark":{"type":"rect","fill":"#af0f07","blend":"difference"},
 "encoding":{"x":{"field":"x1","type":"quantitative","scale":{"domain":[-0.4,849.2],"nice":false,"zero":false}},"x2":{"field":"x2"},
  "y":{"field":"p1","type":"quantitative","scale":{"domain":[4313.6,4817.0],"nice":false,"zero":false}},"y2":{"field":"p2"}}},
{"data":{"name":"fc"},"mark":{"type":"line","color":"#1a1a1a","strokeWidth":4.5,"strokeCap":"butt"},
 "encoding":{"x":{"field":"i","type":"quantitative","scale":{"domain":[-0.4,849.2],"nice":false,"zero":false}},
  "y":{"field":"p","type":"quantitative","scale":{"domain":[4313.6,4817.0],"nice":false,"zero":false}},
  "detail":{"field":"g"}}},
{"data":{"name":"one"},"mark":{"type":"rect","fill":"#26a69a"},
 "encoding":{"x":{"datum":850.3,"type":"quantitative","scale":{"domain":[-0.4,849.2],"nice":false,"zero":false}},"x2":{"datum":902.6},
  "y":{"datum":4547.9,"type":"quantitative","scale":{"domain":[4313.6,4817.0],"nice":false,"zero":false}},"y2":{"datum":4530.1}}},
{"data":{"name":"one"},"mark":{"type":"text","text":"4538.75","color":"#ffffff","fontSize":32,"align":"center","baseline":"middle"},
 "encoding":{"x":{"datum":876.4,"type":"quantitative","scale":{"domain":[-0.4,849.2],"nice":false,"zero":false}},
  "y":{"datum":4539.0,"type":"quantitative","scale":{"domain":[4313.6,4817.0],"nice":false,"zero":false}}}},
{"data":{"name":"one"},"mark":{"type":"text","text":"GOLD, H1","color":"#000","fontSize":27,"fontWeight":"bold","align":"left","baseline":"alphabetic"},
 "encoding":{"x":{"datum":4.3,"type":"quantitative","scale":{"domain":[-0.4,849.2],"nice":false,"zero":false}},
  "y":{"datum":4797.5,"type":"quantitative","scale":{"domain":[4313.6,4817.0],"nice":false,"zero":false}}}},
{"data":{"name":"one"},"mark":{"type":"text","text":"4545.17 4548.79 4538.48 4538.75","color":"#000","fontSize":32,"align":"left","baseline":"alphabetic"},
 "encoding":{"x":{"datum":3.1,"type":"quantitative","scale":{"domain":[-0.4,849.2],"nice":false,"zero":false}},
  "y":{"datum":4776.5,"type":"quantitative","scale":{"domain":[4313.6,4817.0],"nice":false,"zero":false}}}}
]
}
